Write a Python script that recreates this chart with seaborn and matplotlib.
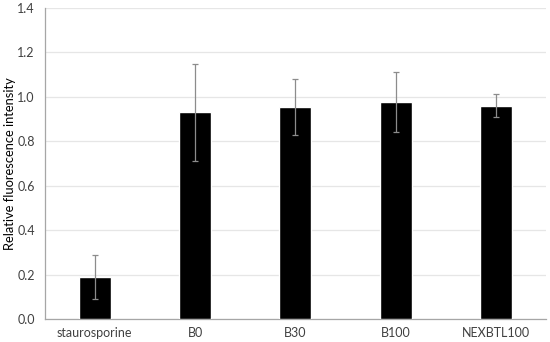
import matplotlib
matplotlib.use("Agg")
import matplotlib.pyplot as plt
import seaborn as sns
import pandas as pd
import numpy as np

# data
categories = ["staurosporine", "B0", "B30", "B100", "NEXBTL100"]
means = [0.19, 0.93, 0.955, 0.975, 0.96]
errors = [0.10, 0.217, 0.125, 0.135, 0.053]
yticks = [0.0, 0.2, 0.4, 0.6, 0.8, 1.0, 1.2, 1.4]

df = pd.DataFrame({"group": categories, "value": means})

sns.set_style("white")
plt.rcParams["font.family"] = ["Lato", "DejaVu Sans"]

fig = plt.figure(figsize=(5.5, 3.42), dpi=100)
ax = fig.add_axes([0.081, 0.067, 0.912, 0.91])

sns.barplot(data=df, x="group", y="value", color="black", width=0.32,
            errorbar=None, ax=ax, saturation=1, zorder=3)
ax.errorbar(np.arange(len(categories)), means, yerr=errors, fmt="none",
            ecolor="#8c8c8c", elinewidth=0.9, capsize=2, capthick=0.9, zorder=4)

ax.set_ylim(0, 1.4)
ax.set_yticks(yticks)
ax.set_yticklabels([f"{t:.1f}" for t in yticks])
ax.set_xlim(-0.5, len(categories) - 0.5)
ax.yaxis.grid(True, color="#e6e6e6", linewidth=0.9, zorder=0)
ax.set_axisbelow(True)

for side in ["top", "right"]:
    ax.spines[side].set_visible(False)
for side in ["left", "bottom"]:
    ax.spines[side].set_color("#a6a6a6")
    ax.spines[side].set_linewidth(0.9)

ax.tick_params(axis="both", length=0, labelsize=9, colors="#404040", pad=6)
ax.tick_params(axis="y", pad=7)
ax.set_xlabel("")
ax.set_ylabel("Relative fluorescence intensity", fontsize=9.3, color="black")
ax.yaxis.set_label_coords(-0.056, 0.5)

fig.savefig("out.png", dpi=100)
